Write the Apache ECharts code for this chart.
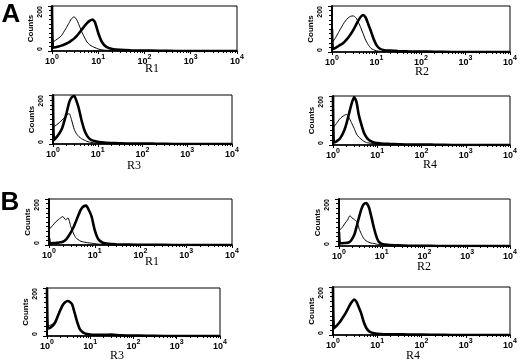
<!DOCTYPE html>
<html><head><meta charset="utf-8">
<script src="https://cdn.jsdelivr.net/npm/echarts@6/dist/echarts.min.js"></script>
<style>html,body{margin:0;padding:0;background:#fff}#c{width:520px;height:363px}</style>
</head><body><div id="c"></div>
<script>
// ---- data ----
const channels = [1, 1.05, 1.2, 1.4, 1.6, 1.8, 2, 2.3, 2.6, 3, 3.4, 3.8, 4.3, 5, 5.7, 6.5, 7.5, 8.5, 10, 12, 15, 20, 30, 50, 100, 200, 500, 1000, 10000];
const panelNames = ['R1', 'R2', 'R3', 'R4', 'R1', 'R2', 'R3', 'R4'];
const groupLetters = ['A', 'B'];
const yTickValues = [0, 200];
const yAxisTitle = 'Counts';

const aR1Thin  = [200, 40, 48, 58, 68, 85, 100, 122, 142, 152, 140, 118, 90, 62, 40, 28, 20, 15, 9, 5, 3, 2, 1, 1, 0, 0, 0, 0, 0];
const aR1Thick = [200, 15, 17, 20, 24, 28, 32, 38, 46, 55, 66, 78, 92, 110, 124, 134, 140, 128, 80, 40, 18, 9, 5, 3, 2, 1, 0, 0, 0];
const aR2Thin  = [120, 46, 62, 85, 105, 122, 135, 148, 155, 157, 150, 135, 112, 80, 52, 32, 16, 10, 5, 3, 2, 1, 1, 0, 0, 0, 0, 0, 0];
const aR2Thick = [100, 13, 18, 26, 33, 39, 48, 62, 76, 95, 115, 133, 150, 161, 150, 122, 90, 60, 30, 14, 8, 6, 4, 3, 2, 1, 0, 0, 0];
const aR3Thin  = [150, 71, 78, 88, 98, 108, 118, 124, 98, 58, 40, 30, 22, 16, 11, 8, 6, 5, 4, 3, 2, 1, 1, 0, 0, 0, 0, 0, 0];
const aR3Thick = [200, 16, 28, 45, 64, 95, 125, 170, 190, 196, 172, 143, 100, 58, 35, 22, 15, 12, 9, 7, 5, 4, 3, 2, 2, 1, 0, 0, 0];
const aR4Thin  = [150, 75, 88, 105, 115, 121, 125, 112, 92, 68, 45, 33, 24, 15, 10, 8, 6, 5, 4, 3, 2, 1, 1, 0, 0, 0, 0, 0, 0];
const aR4Thick = [200, 10, 15, 24, 40, 60, 85, 128, 165, 196, 175, 125, 88, 50, 32, 20, 14, 10, 8, 6, 5, 4, 3, 2, 2, 1, 0, 0, 0];
const bR1Thin  = [100, 72, 85, 100, 110, 118, 124, 110, 118, 80, 52, 33, 24, 16, 13, 11, 9, 8, 6, 4, 3, 3, 2, 1, 1, 0, 0, 0, 0];
const bR1Thick = [30, 7, 8, 9, 10, 12, 14, 22, 35, 55, 75, 98, 125, 155, 168, 171, 150, 125, 65, 25, 10, 5, 3, 2, 1, 1, 0, 0, 0];
const bR2Thin  = [120, 69, 80, 98, 112, 129, 120, 112, 104, 70, 48, 32, 22, 16, 12, 11, 8, 6, 5, 3, 2, 1, 1, 0, 0, 0, 0, 0, 0];
const bR2Thick = [60, 11, 12, 13, 14, 18, 28, 50, 85, 128, 161, 178, 183, 165, 125, 80, 40, 18, 9, 6, 4, 3, 2, 1, 1, 0, 0, 0, 0];
const bR3Thin  = [180, 40, 45, 52, 68, 90, 110, 132, 143, 145, 140, 128, 96, 55, 28, 16, 10, 8, 6, 5, 5, 6, 5, 3, 2, 1, 0, 0, 0];
const bR3Thick = [200, 31, 35, 45, 62, 85, 105, 128, 140, 146, 142, 132, 100, 58, 30, 18, 11, 8, 6, 5, 5, 5, 6, 3, 2, 1, 0, 0, 0];
const bR4Thin  = [170, 30, 40, 54, 70, 84, 98, 120, 136, 146, 136, 114, 88, 50, 27, 15, 10, 7, 5, 4, 3, 3, 2, 2, 1, 1, 0, 0, 0];
const bR4Thick = [200, 28, 38, 52, 68, 82, 96, 118, 135, 148, 138, 117, 92, 52, 28, 16, 10, 7, 5, 4, 3, 3, 3, 2, 2, 1, 0, 0, 0];

const thinSeries  = [aR1Thin, aR2Thin, aR3Thin, aR4Thin, bR1Thin, bR2Thin, bR3Thin, bR4Thin];
const thickSeries = [aR1Thick, aR2Thick, aR3Thick, aR4Thick, bR1Thick, bR2Thick, bR3Thick, bR4Thick];

// ---- layout (pixels) ----
const boxes = [[52,6,185,45],[332,6,178,46],[53,95,179,49],[333,96,177,49],[49,199,183,46],[339,199,172,47],[47,288,173,48],[333,287,177,48]];
const nameCenters = [[152,69],[422,72],[134,166],[430,165],[152,262],[424,267],[117,356],[413,356]];
const letterPos = [[11,15],[10,203]];

const chart = echarts.init(document.getElementById('c'), null, {renderer: 'canvas'});
const grids = [], xAxes = [], yAxes = [], series = [], graphics = [];
boxes.forEach((b, i) => {
  grids.push({left: b[0], top: b[1], width: b[2], height: b[3], show: true, borderColor: '#000', borderWidth: 1, backgroundColor: 'transparent'});
  xAxes.push({
    gridIndex: i, type: 'log', logBase: 10, min: 1, max: 10000,
    axisLine: {lineStyle: {color: '#000', width: 1.5}},
    axisTick: {show: true, length: 3, lineStyle: {color: '#000'}},
    minorTick: {show: true, splitNumber: 9, length: 2, lineStyle: {color: '#000'}},
    splitLine: {show: false}, minorSplitLine: {show: false},
    axisLabel: {
      margin: 3, color: '#000', showMinLabel: true, showMaxLabel: true,
      formatter: v => '{b|10}{s|' + Math.round(Math.log10(v)) + '}',
      rich: {b: {fontFamily: 'Liberation Sans', fontWeight: 'bold', fontSize: 9, lineHeight: 12, verticalAlign: 'bottom'},
             s: {fontFamily: 'Liberation Sans', fontWeight: 'bold', fontSize: 7, lineHeight: 12, verticalAlign: 'top', padding: [0,0,4,0]}}
    }
  });
  yAxes.push({
    gridIndex: i, type: 'value', min: yTickValues[0], max: yTickValues[1], interval: 200,
    name: yAxisTitle, nameLocation: 'middle', nameGap: 17, nameRotate: 90,
    nameTextStyle: {fontFamily: 'Liberation Sans Narrow, Liberation Sans', fontSize: 8, fontWeight: 'bold', color: '#000'},
    axisLine: {show: true, lineStyle: {color: '#000', width: 2}},
    axisTick: {show: true, length: 4, lineStyle: {color: '#000'}},
    minorTick: {show: true, splitNumber: 10, length: 3, lineStyle: {color: '#000'}},
    splitLine: {show: false},
    axisLabel: {rotate: 90, margin: 8, color: '#000', fontFamily: 'Liberation Sans Narrow, Liberation Sans', fontWeight: 'bold', fontSize: 7,
      alignMinLabel: 'left', alignMaxLabel: 'right'}
  });
  series.push({type: 'line', xAxisIndex: i, yAxisIndex: i, symbol: 'none', smooth: 0.2,
    lineStyle: {color: '#000', width: 1}, data: channels.map((c, k) => [c, thinSeries[i][k]]), z: 3});
  series.push({type: 'line', xAxisIndex: i, yAxisIndex: i, symbol: 'none', smooth: 0.2,
    lineStyle: {color: '#000', width: 2.6}, data: channels.map((c, k) => [c, thickSeries[i][k]]), z: 4});
  graphics.push({type: 'text', left: nameCenters[i][0], top: nameCenters[i][1],
    style: {text: panelNames[i], x: 0, y: 0, fill: '#000', font: '12px "Liberation Serif"', textAlign: 'center', textVerticalAlign: 'middle'}});
});
groupLetters.forEach((L, j) => {
  graphics.push({type: 'text', x: letterPos[j][0], y: letterPos[j][1],
    style: {text: L, fill: '#000', font: 'bold 26px "Liberation Sans"', textAlign: 'center', textVerticalAlign: 'middle'}});
});
// graphics for names use x/y rather than left/top
graphics.forEach(g => { if (g.left !== undefined) { g.x = g.left; g.y = g.top; delete g.left; delete g.top; } });
chart.setOption({animation: false, backgroundColor: '#fff', grid: grids, xAxis: xAxes, yAxis: yAxes, series: series, graphic: graphics});
</script></body></html>
